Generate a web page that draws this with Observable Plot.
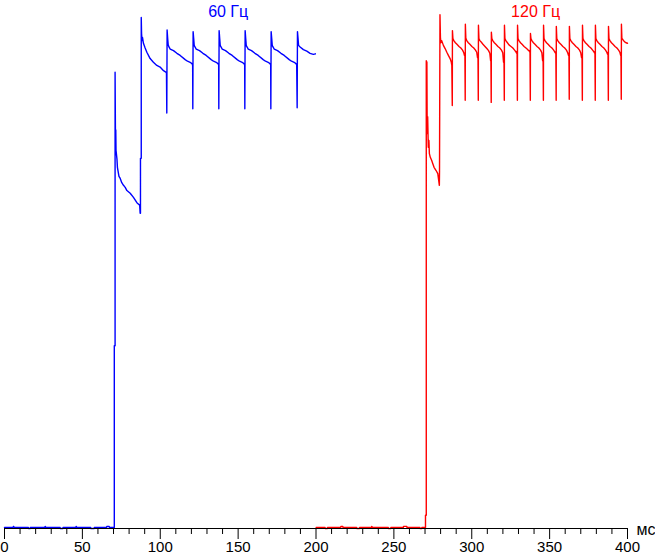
<!DOCTYPE html>
<html>
<head>
<meta charset="utf-8">
<script src="https://cdn.jsdelivr.net/npm/d3@7"></script>
<script src="https://cdn.jsdelivr.net/npm/@observablehq/plot@0.6"></script>
<style>
  html, body { margin: 0; padding: 0; background: #fff; }
</style>
</head>
<body>
<div id="chart"></div>
<script>
// Series labels and tick values
const seriesNames = ["60 Гц", "120 Гц"];
const majorTicks = [0, 50, 100, 150, 200, 250, 300, 350, 400];
const minorTicks = [10, 20, 30, 40, 60, 70, 80, 90, 110, 120, 130, 140, 160, 170, 180, 190,
  210, 220, 230, 240, 260, 270, 280, 290, 310, 320, 330, 340, 360, 370, 380, 390];
const unitLabel = "мс";

// 60 Hz trace: [time ms, brightness %]
const hz60 = [
  [0,0.2],[5.5,0.2],[5.8,0.4],[6.3,0.2],[15.3,0.2],[15.4,0],[16.5,0],[16.6,0.2],[25.9,0.2],[26.1,0.4],[26.6,0.2],
  [35.7,0.2],[35.8,0],[37.5,0],[37.6,0.2],[45.8,0.2],[46.0,0.4],[46.5,0.2],[55.3,0.2],[55.4,0],[57.6,0],[57.7,0.2],
  [65.6,0.2],[65.7,0.4],[67.2,0.4],[67.3,0.2],[70.5,0.2],
  [70.5,34.6],[71.0,34.6],[71.0,86.4],[71.2,76.3],[71.3,72.0],[71.45,75.5],[71.6,71.6],[72.2,70.0],[72.5,68.4],
  [73.5,66.7],[74.3,66.3],[75.3,65.5],[76.4,65.0],[77.5,64.6],[78.6,64.0],[80.7,63.5],[82.8,62.7],[85.0,61.7],
  [86.8,61.2],[87.1,59.7],[87.3,59.7],[87.3,70.1],[87.8,70.1],[87.8,96.8],[88.0,93.75],[88.3,92.4],[88.6,93.0],
  [89.2,91.9],[90.3,91.0],[91.4,90.2],[93.5,89.0],[95.6,88.3],[97.8,87.7],[99.9,87.4],[102.1,86.7],[103.8,86.4],
  [104.0,86.2],[104.2,78.7],[104.4,94.4],[104.8,92.7],[105.1,91.6],[105.6,91.2],[106.4,90.8],[108.5,90.5],
  [110.7,90.0],[112.8,89.6],[116.0,88.8],[117.5,88.5],[119.2,88.3],[120.5,88.0],[120.8,87.7],
  [120.9,79.5],[121.1,94.1],[121.5,92.7],[121.8,91.5],[122.3,91.2],[123.1,90.8],[125.2,90.5],[127.4,90.0],
  [129.5,89.6],[132.7,88.8],[134.2,88.5],[135.9,88.3],[137.2,88.0],[137.5,87.8],
  [137.6,79.5],[137.8,94.3],[138.2,92.7],[138.5,91.5],[139.0,91.2],[139.8,90.8],[141.9,90.5],[144.1,90.0],
  [146.2,89.6],[149.4,88.8],[150.9,88.5],[152.6,88.3],[153.9,88.0],[154.2,87.8],
  [154.3,79.5],[154.5,94.3],[154.9,92.7],[155.2,91.5],[155.7,91.2],[156.5,90.8],[158.6,90.5],[160.8,90.0],
  [162.9,89.6],[166.1,88.8],[167.6,88.5],[169.3,88.3],[170.6,88.0],[170.9,87.8],
  [171.0,79.5],[171.2,94.1],[171.6,92.7],[171.9,91.5],[172.4,91.2],[173.2,90.8],[175.3,90.5],[177.5,90.0],
  [179.6,89.6],[182.8,88.8],[184.3,88.5],[186.0,88.3],[187.3,88.0],[187.6,87.8],
  [187.9,79.7],[188.1,94.1],[188.5,92.7],[188.8,91.5],[189.8,91.2],[191.9,90.7],[194.1,90.4],[196.2,90.0],
  [198.3,89.8],[199.6,89.9]
];

// 120 Hz trace: [time ms, brightness %]
const hz120 = [
  [200.1,0.2],[205.8,0.2],[205.9,0],[207.3,0],[207.4,0.2],[215.9,0.2],[216.0,0.4],[217.2,0.4],[217.3,0.2],
  [226.1,0.2],[226.2,0],[227.9,0],[228.0,0.2],[235.7,0.2],[235.8,0.4],[236.2,0.2],[246.4,0.2],[246.5,0],
  [248.0,0],[248.1,0.2],[256.1,0.2],[256.2,0.4],[258.3,0.4],[258.4,0.2],[266.7,0.2],[266.8,0],[267.9,0],
  [268.0,0.2],[270.3,0.2],[270.3,2.5],[270.8,2.5],[270.8,88.6],[271.2,88.3],[271.4,74.8],[271.7,78.0],
  [272.1,72.2],[272.5,73.5],[272.8,71.0],[273.4,70.3],[274.3,69.7],[275.0,69.1],[275.8,68.4],[277.1,67.8],
  [278.2,67.2],[278.8,65.9],[279.2,65.0],[279.3,67.5],[279.6,97.3],[279.9,93.0],[280.2,92.0],[280.7,92.4],
  [281.8,91.5],[282.9,90.9],[284.0,90.2],[285.0,89.6],[286.1,89.0],[286.8,88.4],[287.2,87.7],
  [287.5,80.1],[287.6,94.3],[287.9,92.8],[288.5,92.4],[289.5,92.0],[290.5,91.7],[291.8,91.3],[293.0,91.0],[294.1,90.6],[294.9,90.1],[295.3,89.6],[295.6,90.0],
  [295.8,81.1],[295.9,95.5],[296.2,92.9],[296.8,92.4],[297.8,92.0],[298.8,91.7],[300.1,91.3],[301.3,91.0],[302.4,90.6],[303.2,90.2],[303.7,89.2],[304.0,89.8],
  [304.2,81.1],[304.3,95.3],[304.6,92.8],[305.2,92.4],[306.2,92.1],[307.2,91.7],[308.5,91.3],[309.7,90.9],[310.8,90.5],[311.6,90.0],[312.1,88.6],[312.3,89.4],
  [312.5,80.7],[312.6,94.0],[312.9,92.8],[313.5,92.4],[314.5,92.0],[315.5,91.7],[316.8,91.3],[318.0,91.0],[319.1,90.6],[319.9,90.1],[320.4,88.3],[320.7,89.0],
  [320.9,81.1],[321.0,95.3],[321.3,92.8],[321.9,92.4],[322.9,92.0],[323.9,91.6],[325.2,91.3],[326.4,91.0],[327.5,90.6],[328.3,90.3],[328.8,90.0],[329.1,90.4],
  [329.3,81.1],[329.4,95.3],[329.7,92.8],[330.3,92.4],[331.3,92.0],[332.3,91.7],[333.6,91.3],[334.8,91.0],[335.9,90.7],[336.7,90.5],[337.2,90.3],[337.4,90.6],
  [337.6,81.1],[337.7,93.75],[338.0,92.8],[338.6,92.4],[339.6,92.0],[340.6,91.7],[341.9,91.3],[343.1,91.0],[344.2,90.6],[345.0,90.1],[345.5,88.6],[345.8,89.4],
  [346.0,81.1],[346.1,95.3],[346.4,92.8],[347.0,92.4],[348.0,92.0],[349.0,91.7],[350.3,91.3],[351.5,91.0],[352.6,90.6],[353.4,90.2],[353.9,90.0],[354.0,90.3],
  [354.2,81.1],[354.3,95.1],[354.6,92.8],[355.2,92.4],[356.2,92.0],[357.2,91.7],[358.5,91.3],[359.7,91.0],[360.8,90.6],[361.6,90.1],[362.1,89.6],[362.4,90.0],
  [362.6,81.3],[362.7,95.1],[363.0,92.8],[363.6,92.4],[364.6,92.0],[365.6,91.7],[366.9,91.3],[368.1,91.0],[369.2,90.6],[370.0,90.1],[370.5,89.2],[370.8,89.8],
  [371.0,81.1],[371.1,95.3],[371.4,92.8],[372.0,92.4],[373.0,92.0],[374.0,91.7],[375.3,91.3],[376.5,91.0],[377.6,90.6],[378.4,90.3],[378.9,90.0],[379.1,90.3],
  [379.3,81.1],[379.4,95.3],[379.7,92.8],[380.3,92.4],[381.3,92.0],[382.3,91.7],[383.6,91.3],[384.8,91.0],[385.9,90.6],[386.7,90.2],[387.2,89.8],[387.5,90.2],
  [387.7,81.1],[387.8,95.1],[388.1,92.8],[388.7,92.4],[389.7,92.0],[390.7,91.7],[392.0,91.3],[393.2,91.0],[394.3,90.6],[395.1,90.2],[395.6,89.6],[395.8,90.0],
  [396.0,81.3],[396.1,95.5],[396.4,92.8],[397.0,92.6],[398.0,92.2],[399.0,92.0],[400.0,91.9]
];

// Annotation anchors (time ms, level %) for the series names
const nameAnchors = [[143.6, 97.8], [341, 97.8]];

const labelData = seriesNames.map((name, i) => ({name, x: nameAnchors[i][0], y: nameAnchors[i][1], color: i === 0 ? "#0000ff" : "#ff0000"}));

const chart = Plot.plot({
  width: 655,
  height: 556,
  marginTop: 0,
  marginBottom: 28,
  marginLeft: 4,
  marginRight: 28,
  style: {fontFamily: "'Liberation Sans', Arial, sans-serif", fontSize: "15px", background: "#fff", color: "#000", overflow: "visible"},
  x: {domain: [0, 400], axis: null},
  y: {domain: [0, 100], axis: null},
  marks: [
    Plot.line(hz60, {x: d => d[0], y: d => d[1], stroke: "#0000ff", strokeWidth: 1.4, curve: "linear"}),
    Plot.line(hz120, {x: d => d[0], y: d => d[1], stroke: "#ff0000", strokeWidth: 1.4, curve: "linear"}),
    Plot.ruleY([0], {stroke: "#000", strokeWidth: 1}),
    Plot.axisX({ticks: minorTicks, tickSize: 6, text: null, label: null, stroke: "#000"}),
    Plot.axisX({ticks: majorTicks, tickSize: 11, tickPadding: 2, fontSize: 15, label: null, stroke: "#000", fill: "#000", tickFormat: d => String(d)}),
    Plot.text([unitLabel], {x: 400, y: 0, text: d => d, textAnchor: "start", lineAnchor: "middle", dx: 9, dy: 1, fontSize: 16, fill: "#000"}),
    Plot.text(labelData, {x: "x", y: "y", text: "name", fill: "color", fontSize: 16, textAnchor: "middle", lineAnchor: "middle"})
  ]
});
document.getElementById("chart").appendChild(chart);
</script>
</body>
</html>
